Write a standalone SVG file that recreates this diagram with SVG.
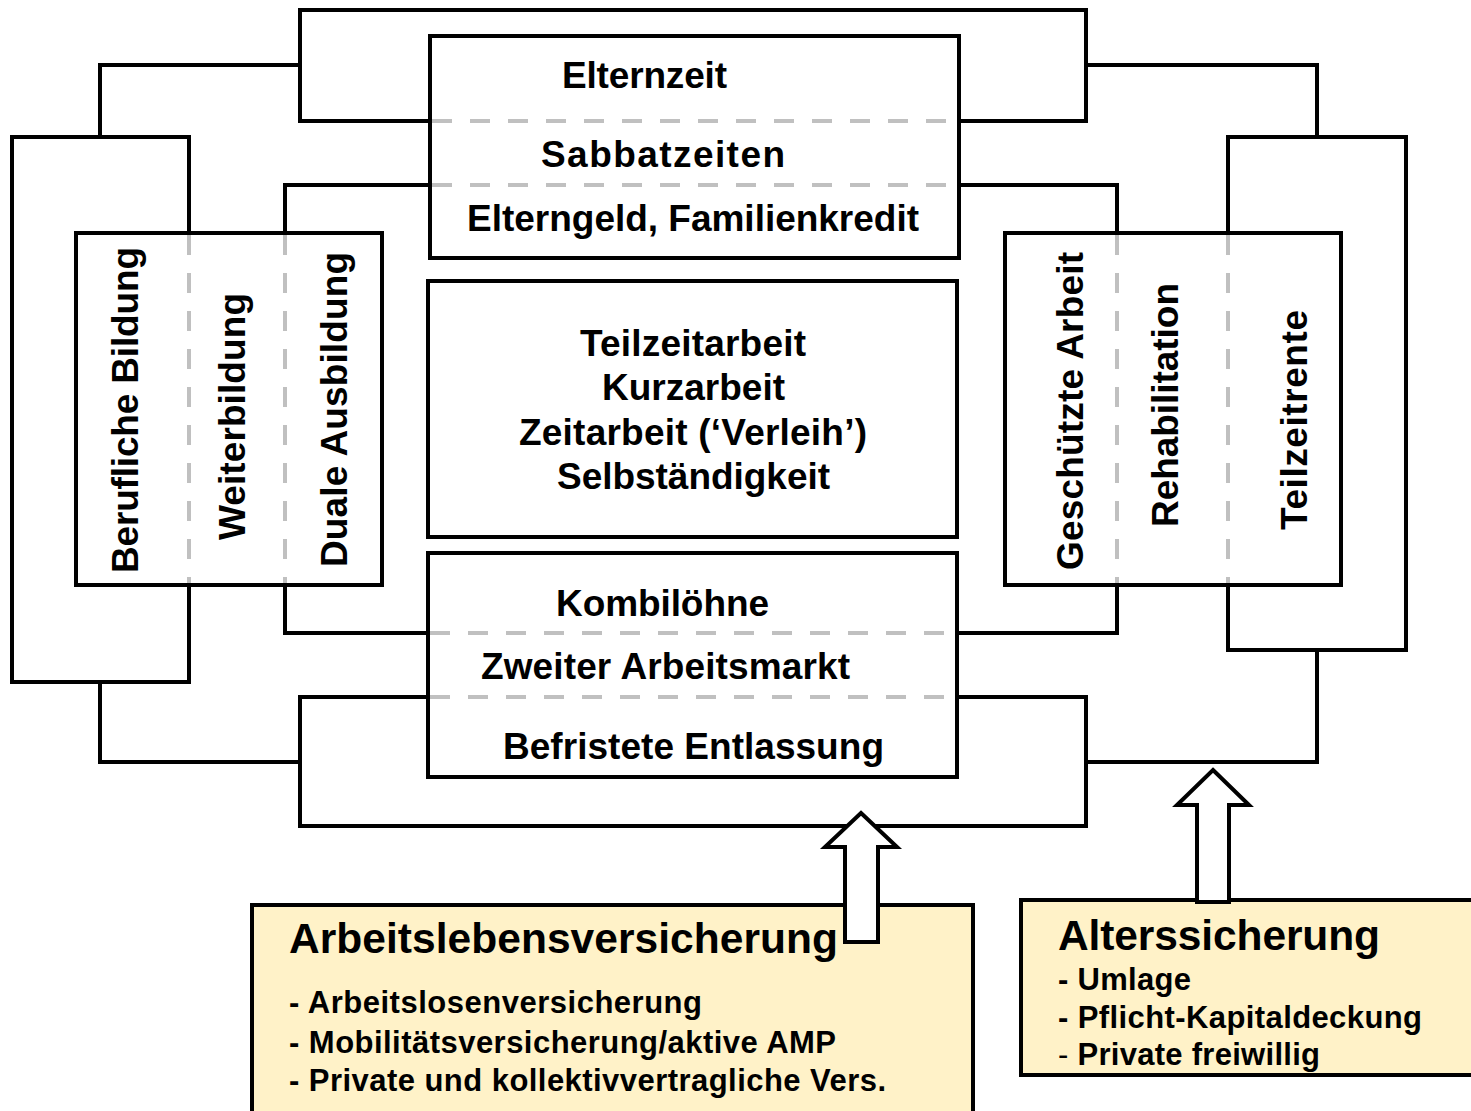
<svg xmlns="http://www.w3.org/2000/svg" width="1471" height="1111" viewBox="0 0 1471 1111">
<style>
.ln{fill:none;stroke:#000;stroke-width:4;stroke-linejoin:miter;stroke-linecap:square}
.bx{fill:#fff;stroke:#000;stroke-width:4}
.ds{fill:none;stroke:#c0c0c0;stroke-width:4;stroke-dasharray:20 18}
.yb{fill:#fff2c8;stroke:#000;stroke-width:4}
.ar{fill:#fff;stroke:#000;stroke-width:4;stroke-linejoin:miter}
text{font-family:"Liberation Sans",Arial,Helvetica,sans-serif;font-weight:bold;fill:#000}
.t{font-size:37px}
.h{font-size:42.5px}
.i{font-size:31px}
</style>
<rect width="1471" height="1111" fill="#fff"/>
<g id="connectors">
<path class="ln" d="M100,137 V65 H300"/>
<path class="ln" d="M1086,65 H1317 V137"/>
<path class="ln" d="M100,682 V762 H300"/>
<path class="ln" d="M1086,762 H1317 V650"/>
<path class="ln" d="M430,121 H300 V10 H1086 V121 H959"/>
<path class="ln" d="M428,697 H300 V826 H1086 V697 H957"/>
<path class="ln" d="M430,185 H285 V233"/>
<path class="ln" d="M959,185 H1117 V233"/>
<path class="ln" d="M285,585 V633 H428"/>
<path class="ln" d="M957,633 H1117 V585"/>
</g>
<g id="left-outer-frame">
<rect class="bx" x="12" y="137" width="177" height="545"/>
</g>
<g id="right-outer-frame">
<rect class="bx" x="1228" y="137" width="178" height="513"/>
</g>
<g id="left-education">
<rect class="bx" x="76" y="233" width="306" height="352"/>
<line class="ds" x1="189" y1="235" x2="189" y2="583"/>
<line class="ds" x1="285" y1="235" x2="285" y2="583"/>
<text class="t" transform="translate(138,573) rotate(-90)" textLength="326">Berufliche Bildung</text>
<text class="t" transform="translate(245,540) rotate(-90)" textLength="247">Weiterbildung</text>
<text class="t" transform="translate(347,567) rotate(-90)" textLength="315">Duale Ausbildung</text>
</g>
<g id="right-rehab">
<rect class="bx" x="1005" y="233" width="336" height="352"/>
<line class="ds" x1="1117" y1="235" x2="1117" y2="583"/>
<line class="ds" x1="1228" y1="235" x2="1228" y2="583"/>
<text class="t" transform="translate(1083,570) rotate(-90)" textLength="318">Geschützte Arbeit</text>
<text class="t" transform="translate(1178,527) rotate(-90)" textLength="244">Rehabilitation</text>
<text class="t" transform="translate(1307,530) rotate(-90)" textLength="220">Teilzeitrente</text>
</g>
<g id="top-family">
<rect class="bx" x="430" y="36" width="529" height="222"/>
<line class="ds" x1="432" y1="121" x2="957" y2="121"/>
<line class="ds" x1="432" y1="185" x2="957" y2="185"/>
<text class="t" x="562" y="88" textLength="165">Elternzeit</text>
<text class="t" x="541" y="167" textLength="244">Sabbatzeiten</text>
<text class="t" x="467" y="231" textLength="452">Elterngeld, Familienkredit</text>
</g>
<g id="center-work">
<rect class="bx" x="428" y="281" width="529" height="256"/>
<text class="t" x="580" y="356" textLength="226">Teilzeitarbeit</text>
<text class="t" x="602" y="400" textLength="183">Kurzarbeit</text>
<text class="t" x="519" y="445" textLength="348">Zeitarbeit (‘Verleih’)</text>
<text class="t" x="557" y="489" textLength="273">Selbständigkeit</text>
</g>
<g id="bottom-labour">
<rect class="bx" x="428" y="553" width="529" height="224"/>
<line class="ds" x1="430" y1="633" x2="955" y2="633"/>
<line class="ds" x1="430" y1="697" x2="955" y2="697"/>
<text class="t" x="556" y="616" textLength="213">Kombilöhne</text>
<text class="t" x="481" y="679" textLength="369">Zweiter Arbeitsmarkt</text>
<text class="t" x="503" y="759" textLength="381">Befristete Entlassung</text>
</g>
<g id="arbeitslebensversicherung">
<rect class="yb" x="252" y="905" width="721" height="220"/>
<text class="h" x="289" y="953" textLength="549">Arbeitslebensversicherung</text>
<text class="i" x="289" y="1013" textLength="413">- Arbeitslosenversicherung</text>
<text class="i" x="289" y="1053" textLength="547">- Mobilitätsversicherung/aktive AMP</text>
<text class="i" x="289" y="1091" textLength="597">- Private und kollektivvertragliche Vers.</text>
<polygon class="ar" points="861,813 897,847 878,847 878,942 845,942 845,847 825,847"/>
</g>
<g id="alterssicherung">
<rect class="yb" x="1021" y="900" width="470" height="175"/>
<polygon class="ar" points="1213,770 1249,805 1229,805 1229,902 1197,902 1197,805 1177,805"/>
<text class="h" x="1058" y="950" textLength="322">Alterssicherung</text>
<text class="i" x="1058" y="990" textLength="133">- Umlage</text>
<text class="i" x="1058" y="1028" textLength="364">- Pflicht-Kapitaldeckung</text>
<text class="i" x="1058" y="1065" textLength="262"><tspan font-weight="normal">-</tspan> Private freiwillig</text>
</g>
</svg>
